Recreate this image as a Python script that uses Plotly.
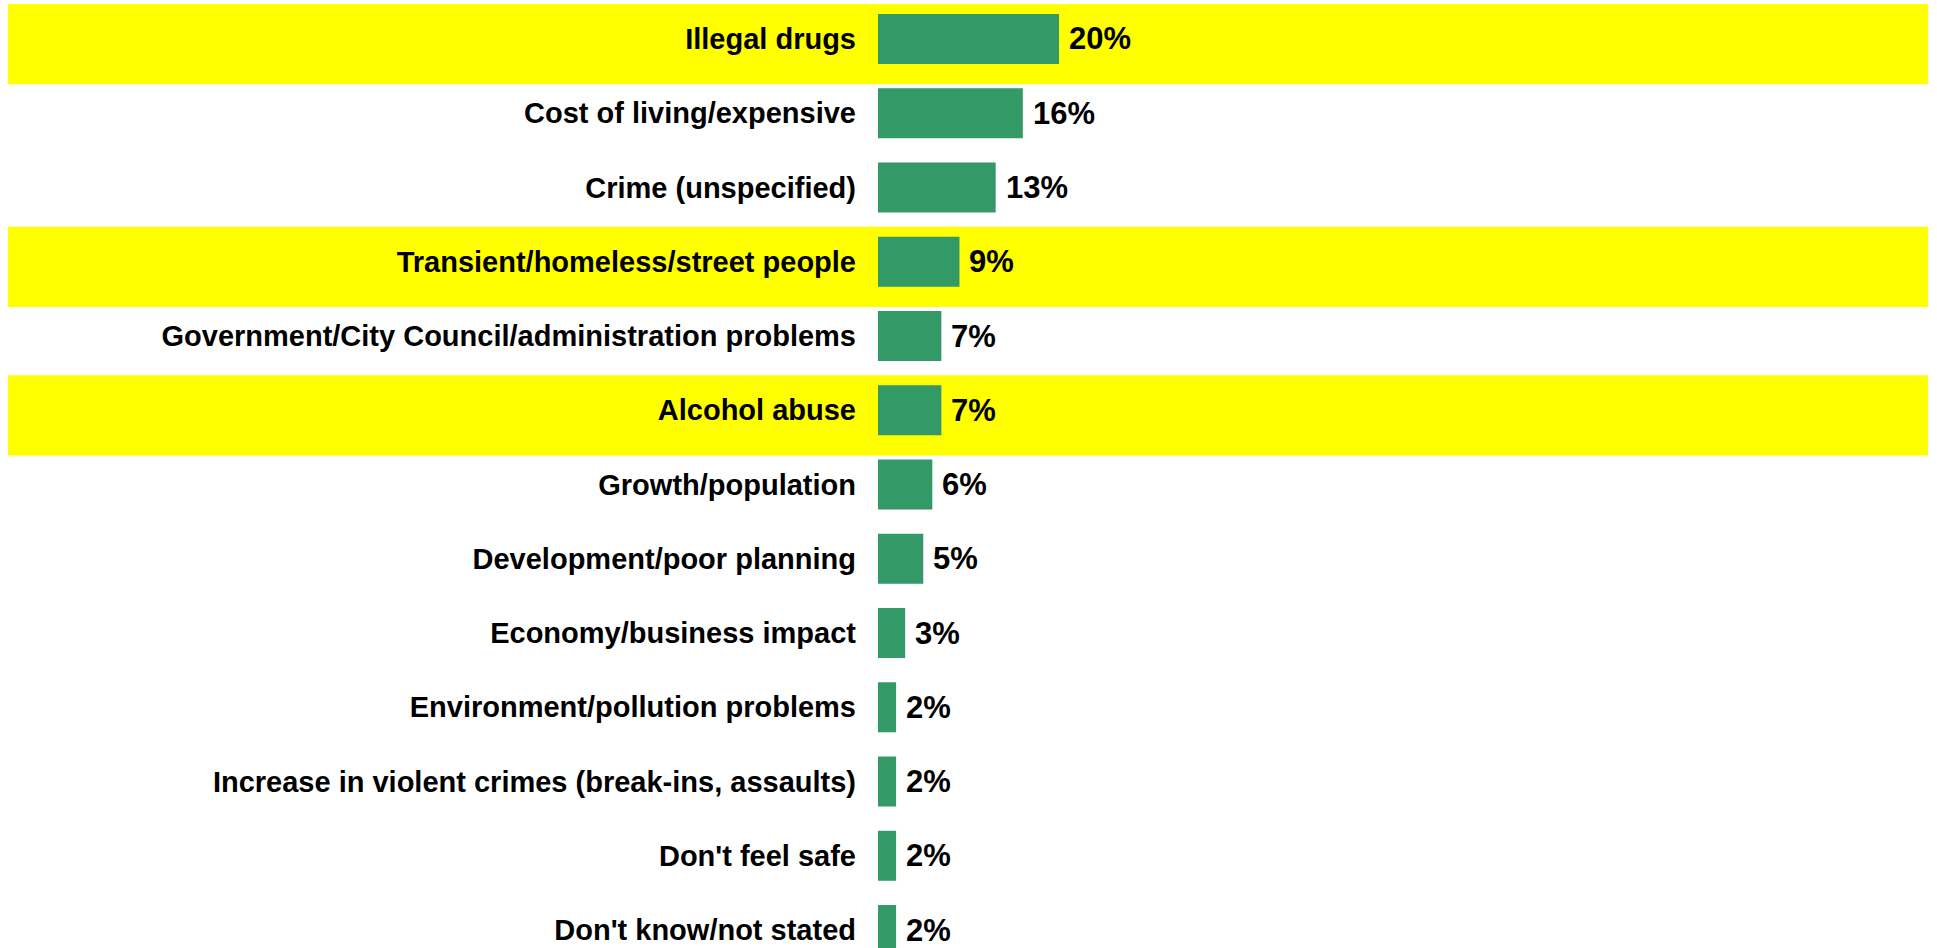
import plotly.graph_objects as go

# Survey responses, in display order (top to bottom)
categories = [
    "Illegal drugs",
    "Cost of living/expensive",
    "Crime (unspecified)",
    "Transient/homeless/street people",
    "Government/City Council/administration problems",
    "Alcohol abuse",
    "Growth/population",
    "Development/poor planning",
    "Economy/business impact",
    "Environment/pollution problems",
    "Increase in violent crimes (break-ins, assaults)",
    "Don't feel safe",
    "Don't know/not stated",
]
percentages = [20, 16, 13, 9, 7, 7, 6, 5, 3, 2, 2, 2, 2]
highlighted = ["Illegal drugs", "Transient/homeless/street people", "Alcohol abuse"]

GREEN = "#339966"
YELLOW = "#FFFF00"
FONT = "Liberation Sans"

positions = list(range(len(categories)))

fig = go.Figure()
fig.add_trace(go.Bar(
    x=percentages,
    y=positions,
    orientation="h",
    marker=dict(color=GREEN, line=dict(width=0)),
    width=0.673,
    hoverinfo="skip",
))

# Yellow highlight bands spanning the whole row
for name in highlighted:
    i = categories.index(name)
    fig.add_shape(
        type="rect", xref="paper", yref="y",
        x0=-0.8286, x1=1.0, y0=i - 0.47, y1=i + 0.61,
        fillcolor=YELLOW, line=dict(width=0), layer="below",
    )

# Value labels just right of each bar
for p, v in zip(positions, percentages):
    fig.add_annotation(
        x=v, y=p, xref="x", yref="y",
        text=f"{v}%", showarrow=False,
        xanchor="left", yanchor="middle", xshift=8,
        font=dict(family=FONT, size=31, color="black", weight="bold"),
    )

fig.update_layout(
    width=1937, height=948,
    margin=dict(l=878, r=9, t=0, b=0),
    paper_bgcolor="white", plot_bgcolor="rgba(0,0,0,0)",
    showlegend=False,
    xaxis=dict(range=[0, 116], visible=False, fixedrange=True),
    yaxis=dict(
        range=[12.242, -0.525],
        tickvals=positions, ticktext=categories,
        ticks="", showgrid=False, zeroline=False, showline=False,
        ticklabelstandoff=21,
        tickfont=dict(family=FONT, size=29, color="black", weight="bold"),
        fixedrange=True,
    ),
)

fig.write_html("out.html")
